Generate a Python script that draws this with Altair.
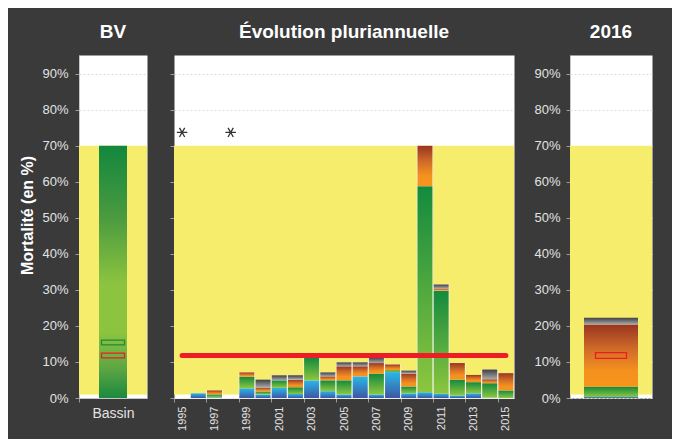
import altair as alt
import pandas as pd

# ---------------- data ----------------
years = [str(y) for y in range(1995, 2016)]
year_labels = [str(y) for y in range(1995, 2016, 2)]
categories = ["blue", "green", "orange", "gray"]

blue = [0.0, 1.3, 0.2, 0.0, 2.7, 1.0, 2.8, 1.1, 4.9, 1.9, 1.0, 6.0, 1.0, 7.2, 1.3, 1.6, 1.2, 0.7, 1.3, 0.1, 0.0]
green = [0.0, 0.0, 0.8, 0.0, 3.2, 0.8, 2.1, 1.9, 6.2, 3.0, 3.9, 0.0, 5.7, 0.5, 1.9, 57.2, 28.6, 4.4, 3.1, 4.0, 2.1]
orange = [0.0, 0.0, 1.1, 0.0, 1.2, 1.1, 0.0, 2.1, 0.0, 1.1, 3.9, 2.8, 3.0, 1.6, 3.6, 11.2, 0.6, 4.6, 2.0, 1.1, 4.8]
gray = [0.0, 0.0, 0.0, 0.0, 0.0, 2.2, 1.4, 1.2, 0.0, 1.1, 1.1, 1.1, 1.6, 0.0, 0.8, 0.0, 1.1, 0.0, 0.0, 2.7, 0.0]

missing_years = ["1995", "1998"]
missing_level = 73.7
reference_level = 11.8

bv_category = ["Bassin"]
bv_value = [70.0]
bv_green_marker = [15.4]
bv_red_marker = [11.8]

year_2016 = ["2016"]
blue_2016 = [0.3]
green_2016 = [2.8]
orange_2016 = [17.3]
gray_2016 = [1.9]
red_marker_2016 = [11.8]

zone_low = 1.0
zone_high = 70.0
y_ticks = [0, 10, 20, 30, 40, 50, 60, 70, 80, 90]
y_max = 95.2

# ---------------- styles ----------------
FONT = "Liberation Sans"
YELLOW = "#f5ed6b"
RED = "#ee1c25"
DARK = "#3a3a3a"
H = 343


def grad(stops):
    return alt.LinearGradient(
        gradient="linear", x1=0, x2=0, y1=1, y2=0,
        stops=[alt.GradientStop(offset=o, color=c) for o, c in stops],
    )


grads = {
    "blue": grad([(0, "#3d56a6"), (1, "#29b8e5")]),
    "green": grad([(0, "#8dc63f"), (1, "#138a3e")]),
    "orange": grad([(0, "#f7941d"), (0.25, "#f5921e"), (0.6, "#d06c28"), (1, "#993521")]),
    "gray": grad([(0, "#a9aaad"), (1, "#3f3f42")]),
}
bv_grad = grad([(0, "#1a8a3e"), (0.12, "#5ea644"), (0.26, "#8cc43f"),
                (0.45, "#8cc43f"), (0.72, "#4a9a40"), (1, "#12873d")])

ast_path = "M-1,0L1,0M-0.5,-0.87L0.5,0.87M-0.5,0.87L0.5,-0.87"
rect_left = "M-1,-0.2L1,-0.2L1,0.2L-1,0.2Z"
rect_right = "M-1,-0.19L1,-0.19L1,0.19L-1,0.19Z"

y_scale = alt.Scale(domain=[0, y_max], nice=False, zero=True)

ax_left = alt.Axis(values=y_ticks, labelExpr="datum.value + '%'", tickSize=4,
                   labelPadding=7, grid=True, domain=True,
                   titleX=-47, titleY=160, titleBaseline="alphabetic")
ax_mid = alt.Axis(values=y_ticks, labels=False, ticks=True, tickSize=4,
                  domain=False, grid=True)
ax_right = alt.Axis(values=y_ticks, labelExpr="datum.value + '%'", tickSize=4,
                    labelPadding=6, grid=True, domain=True)


def yq(field, axis, title=None):
    if title is None:
        return alt.Y(field, type="quantitative", scale=y_scale, axis=axis, title="")
    return alt.Y(field, type="quantitative", scale=y_scale, axis=axis, title=title)


zone_df = pd.DataFrame({"lo": [zone_low], "hi": [zone_high]})


def zone_layer(axis, title=None):
    return alt.Chart(zone_df).mark_rect(color=YELLOW).encode(
        x=alt.value(0), x2=alt.value("width"),
        y=yq("lo", axis, title), y2="hi:Q")


def long_df(xs, series):
    rows = []
    for i, x in enumerate(xs):
        for k, (c, vals) in enumerate(zip(categories, series)):
            rows.append({"year": x, "cat": c, "order": k, "value": vals[i]})
    return pd.DataFrame(rows)


def seg_layers(df, x_enc, axis, width):
    out = []
    for c in categories:
        out.append(
            alt.Chart(df)
            .transform_stack(stack="value", groupby=["year"], as_=["y0", "y1"],
                             sort=[alt.SortField("order", order="ascending")])
            .transform_filter(f"datum.cat == '{c}' && datum.value > 0")
            .mark_bar(color=grads[c], width=width)
            .encode(x=x_enc, y=yq("y0", axis), y2="y1:Q")
        )
    return out


# ---------------- left panel (BV) ----------------
x_left = alt.X("cat:N", scale=alt.Scale(paddingInner=0, paddingOuter=0),
               axis=alt.Axis(labelFontSize=14, labelAngle=0, tickSize=4, labelPadding=4,
                             tickOffset=-34, labelOffset=34),
               title=None)
bv_df = pd.DataFrame({"cat": bv_category, "value": bv_value})
TITLE_Y = "Mortalité (en %)"
left = alt.layer(
    zone_layer(ax_left, TITLE_Y),
    alt.Chart(bv_df).mark_bar(color=bv_grad, width=28).encode(
        x=x_left, y=yq("value", ax_left, TITLE_Y)),
    alt.Chart(pd.DataFrame({"cat": bv_category, "v": bv_green_marker}))
    .mark_point(shape=rect_left, size=529, filled=False, stroke="#1f8b36", strokeWidth=1.3, opacity=1)
    .encode(x=x_left, y=yq("v", ax_left, TITLE_Y)),
    alt.Chart(pd.DataFrame({"cat": bv_category, "v": bv_red_marker}))
    .mark_point(shape=rect_left, size=529, filled=False, stroke=RED, strokeWidth=1.3, opacity=1)
    .encode(x=x_left, y=yq("v", ax_left, TITLE_Y)),
).properties(width=68, height=H, title="BV")

# ---------------- middle panel ----------------
x_mid = alt.X("year:N", scale=alt.Scale(domain=years, paddingInner=0, paddingOuter=0),
              axis=alt.Axis(values=year_labels, labelAngle=270, labelFontSize=11,
                            tickSize=4, labelPadding=4, domainColor="#eeeeee",
                            tickOffset=-8.1, labelOffset=8.1),
              title=None)
mid_df = long_df(years, [blue, green, orange, gray])
line_df = pd.DataFrame({"year": years, "level": reference_level})
miss_df = pd.DataFrame({"year": missing_years, "level": missing_level})

mid = alt.layer(
    zone_layer(ax_mid),
    alt.Chart(mid_df).mark_bar(color="white").encode(
        x=x_mid, y=alt.Y("sum(value):Q", scale=y_scale, axis=ax_mid, title="")),
    *seg_layers(mid_df, x_mid, ax_mid, alt.RelativeBandSize(band=0.93)),
    alt.Chart(line_df).mark_line(color=RED, strokeWidth=5, strokeCap="round").encode(
        x=x_mid, y=yq("level", ax_mid)),
    alt.Chart(miss_df).mark_point(shape=ast_path, size=110, filled=False, stroke="#333333",
                                  strokeWidth=1.3, opacity=1).encode(
        x=x_mid, y=yq("level", ax_mid)),
).properties(width=340, height=H, title="Évolution pluriannuelle")

# ---------------- spacer ----------------
spacer = alt.Chart(pd.DataFrame({"a": [0]})).mark_rect(opacity=0).encode(
    x=alt.value(0), x2=alt.value(1), y=alt.value(0), y2=alt.value(1)
).properties(width=2, height=H,
             view=alt.ViewBackground(fill="transparent", stroke="transparent"))

# ---------------- right panel (2016) ----------------
x_right = alt.X("year:N", scale=alt.Scale(paddingInner=0, paddingOuter=0), axis=None)
r_df = long_df(year_2016, [blue_2016, green_2016, orange_2016, gray_2016])
right = alt.layer(
    zone_layer(ax_right),
    *seg_layers(r_df, x_right, ax_right, 54),
    alt.Chart(pd.DataFrame({"year": year_2016, "v": red_marker_2016}))
    .mark_point(shape=rect_right, size=961, filled=False, stroke=RED, strokeWidth=1.3, opacity=1)
    .encode(x=x_right, y=yq("v", ax_right)),
).properties(width=82, height=H, title="2016")

chart = alt.hconcat(left, mid, spacer, right, spacing=27, bounds="flush").properties(
    padding={"left": 10, "top": 14, "right": 19, "bottom": 12}
).configure(background=DARK, font=FONT).configure_view(
    fill="white", stroke="transparent"
).configure_axis(
    labelColor="#e2e2e2", labelFont=FONT, labelFontSize=13,
    tickColor="#9a9a9a", domainColor="#c8c8c8",
    gridColor="#dcdcdc", gridDash=[2, 2], gridWidth=1,
    titleColor="white", titleFont=FONT, titleFontSize=16, titleFontWeight="bold",
).configure_title(
    color="white", font=FONT, fontSize=19, fontWeight="bold",
    anchor="middle", baseline="alphabetic", offset=13,
)

chart.save("out.html", embed_options={"renderer": "svg", "actions": False})
